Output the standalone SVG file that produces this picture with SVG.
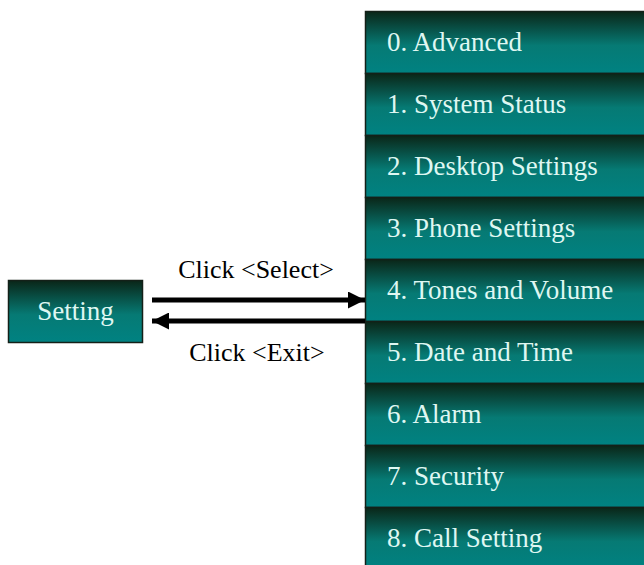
<svg xmlns="http://www.w3.org/2000/svg" width="644" height="565" viewBox="0 0 644 565">
<defs>
<linearGradient id="g" x1="0" y1="0" x2="0" y2="1">
<stop offset="0" stop-color="#0a2618"/>
<stop offset="0.55" stop-color="#067a74"/>
<stop offset="1" stop-color="#008282"/>
</linearGradient>
<marker id="ah" viewBox="0 0 10 10" refX="10" refY="5" markerWidth="4" markerHeight="3.4" markerUnits="strokeWidth" orient="auto">
<path d="M0,0 L10,5 L0,10 Z" fill="#000"/>
</marker>
</defs>
<style>
.box{fill:url(#g);stroke:#142018;stroke-width:1.5}
.mt{font-family:"Liberation Serif",serif;font-size:27px;fill:#dff7f2}
.lb{font-family:"Liberation Serif",serif;font-size:26px;fill:#000;text-anchor:middle}
.ln{stroke:#000;stroke-width:5;fill:none}
</style>
<rect width="644" height="565" fill="#fff"/>
<g id="setting">
<rect class="box" x="8.5" y="280.5" width="134" height="62"/>
<text class="mt" x="75.5" y="320" text-anchor="middle">Setting</text>
</g>
<g id="item0"><rect class="box" x="365.5" y="11.5" width="282" height="62"/><text class="mt" x="387" y="51">0. Advanced</text></g>
<g id="item1"><rect class="box" x="365.5" y="73.5" width="282" height="62"/><text class="mt" x="387" y="113">1. System Status</text></g>
<g id="item2"><rect class="box" x="365.5" y="135.5" width="282" height="62"/><text class="mt" x="387" y="175">2. Desktop Settings</text></g>
<g id="item3"><rect class="box" x="365.5" y="197.5" width="282" height="62"/><text class="mt" x="387" y="237">3. Phone Settings</text></g>
<g id="item4"><rect class="box" x="365.5" y="259.5" width="282" height="62"/><text class="mt" x="387" y="299">4. Tones and Volume</text></g>
<g id="item5"><rect class="box" x="365.5" y="321.5" width="282" height="62"/><text class="mt" x="387" y="361">5. Date and Time</text></g>
<g id="item6"><rect class="box" x="365.5" y="383.5" width="282" height="62"/><text class="mt" x="387" y="423">6. Alarm</text></g>
<g id="item7"><rect class="box" x="365.5" y="445.5" width="282" height="62"/><text class="mt" x="387" y="485">7. Security</text></g>
<g id="item8"><rect class="box" x="365.5" y="507.5" width="282" height="62"/><text class="mt" x="387" y="547">8. Call Setting</text></g>
<g id="connectors">
<line class="ln" x1="152" y1="300" x2="365" y2="300" marker-end="url(#ah)"/>
<line class="ln" x1="365" y1="321" x2="152" y2="321" marker-end="url(#ah)"/>
<text class="lb" x="256" y="278">Click &lt;Select&gt;</text>
<text class="lb" x="257" y="361">Click &lt;Exit&gt;</text>
</g>
</svg>
